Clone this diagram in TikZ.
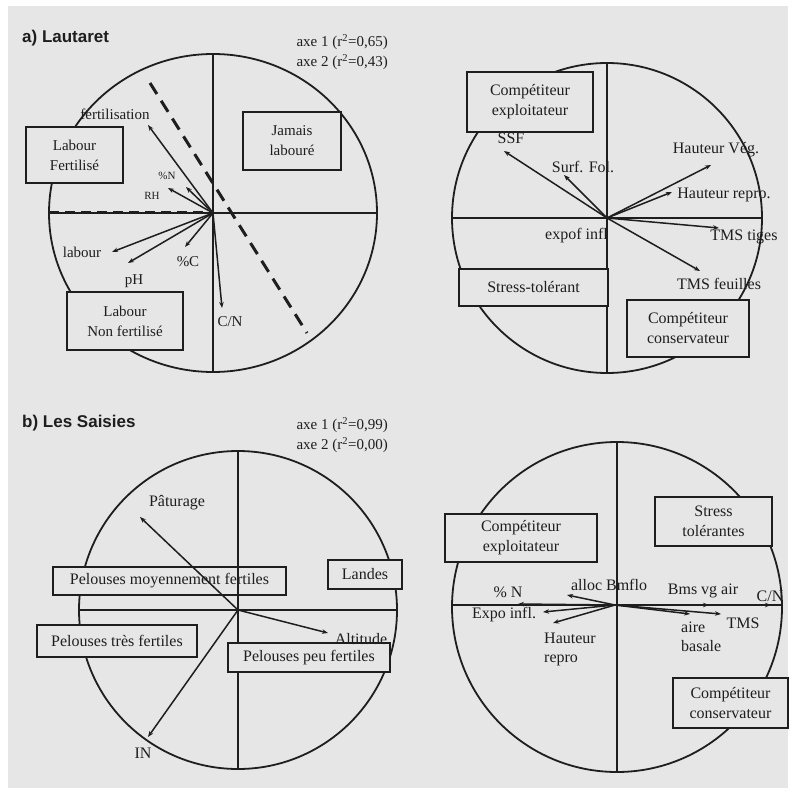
\documentclass[tikz,border=0pt]{standalone}
\usepackage{fontspec}
\setmainfont{Liberation Serif}
\newfontfamily\headfont{Liberation Sans}
\usetikzlibrary{arrows.meta}
\definecolor{bgc}{HTML}{E6E6E6}
\definecolor{ink}{HTML}{1E1E1E}
\begin{document}
\begin{tikzpicture}[x=1pt,y=-1pt,
  ring/.style={draw=ink,line width=1.8pt},
  axisline/.style={draw=ink,line width=1.8pt},
  vec/.style={draw=ink,line width=1.5pt,-{Stealth[length=6pt,width=4.5pt]}},
  boxn/.style={draw=ink,line width=1.8pt,fill=bgc,align=center,inner sep=0pt,text=ink,font=\fontsize{16}{20}\selectfont},
  boxs/.style={boxn,font=\fontsize{15}{20}\selectfont},
  lbl/.style={inner sep=0pt,text=ink,font=\fontsize{16}{19}\selectfont},
  lbla/.style={inner sep=0pt,text=ink,font=\fontsize{15}{18}\selectfont},
  slbl/.style={inner sep=0pt,text=ink,font=\fontsize{11}{13}\selectfont},
  heading/.style={anchor=west,inner sep=0pt,text=ink,font=\headfont\bfseries\fontsize{17}{20}\selectfont},
  bigdash/.style={draw=ink,line width=3pt,dash pattern=on 13pt off 8pt}]
\useasboundingbox (0,0) rectangle (802,794);
\fill[white] (0,0) rectangle (802,794);
\fill[bgc] (8,6) rectangle (788,788);

% ---------------- a) Lautaret ----------------
\node[heading] (ha) at (22,38) {a) Lautaret};
\node[lbla,anchor=east] (ha1) at (388,42) {axe 1 (r\textsuperscript{2}=0,65)};
\node[lbla,anchor=east] (ha2) at (388,62) {axe 2 (r\textsuperscript{2}=0,43)};

% top-left circle
\coordinate (O1) at (213,213);
\draw[ring] (O1) ellipse [x radius=164, y radius=159];
\coordinate (T1) at (213,54);
\coordinate (B1) at (213,372);
\coordinate (L1) at (49,213);
\coordinate (R1) at (377,213);
\draw[axisline] (T1) -- (B1);
\draw[axisline] (L1) -- (R1);
\draw[bigdash,dash pattern=on 10pt off 6pt] (L1) -- (O1);
\coordinate (D1a) at (150,83);
\coordinate (D1b) at (307,333);
\draw[bigdash] (D1a) -- (D1b);

\coordinate (tfert) at (148,125);
\coordinate (tN) at (186,187);
\coordinate (tRH) at (168,188);
\coordinate (tlab) at (112,252);
\coordinate (tpH) at (128,263);
\coordinate (tC) at (185,247);
\coordinate (tCN) at (222,308);
\foreach \t in {tfert,tN,tRH,tlab,tpH,tC,tCN} \draw[vec] (O1) -- (\t);

\node[lbla] (lfert) at (115,114) {fertilisation};
\node[slbl] (lN) at (167,176) {\%N};
\node[slbl] (lRH) at (152,196) {RH};
\node[lbla] (llab) at (82,252) {labour};
\node[lbla] (lpH) at (134,281) {pH};
\node[lbla] (lC) at (188,262) {\%C};
\node[lbla] (lCN) at (230,322) {C/N};

\node[boxs,minimum width=98,minimum height=58] (jam) at (292,141) {Jamais\\labouré};
\node[boxs,minimum width=97,minimum height=56] (labf) at (74.5,155) {Labour\\Fertilisé};
\node[boxs,minimum width=116,minimum height=58] (labn) at (125,321) {Labour\\Non fertilisé};

% top-right circle
\coordinate (O2) at (607,218);
\draw[ring] (O2) circle [radius=155];
\coordinate (T2) at (607,63);
\coordinate (B2) at (607,373);
\coordinate (L2) at (452,218);
\coordinate (R2) at (762,218);
\draw[axisline] (T2) -- (B2);
\draw[axisline] (L2) -- (R2);

\coordinate (tSSF) at (504,151);
\coordinate (tSF) at (564,175);
\coordinate (tHV) at (711,165);
\coordinate (tHR) at (672,192);
\coordinate (tTt) at (719,228);
\coordinate (tTf) at (700,271);
\foreach \t in {tSSF,tSF,tHV,tHR,tTt,tTf} \draw[vec] (O2) -- (\t);

\node[lbl] (lSSF) at (511,138) {SSF};
\node[lbl] (lSF) at (583,167) {Surf. Fol.};
\node[lbl] (lHV) at (716,150) {Hauteur Vég.};
\node[lbl] (lHR) at (724,195) {Hauteur repro.};
\node[lbl] (lTt) at (744,237) {TMS tiges};
\node[lbl] (lTf) at (719,284) {TMS feuilles};
\node[lbl,anchor=east] (lexp) at (608,236) {expof infl};

\node[boxn,minimum width=126,minimum height=60] (cexp) at (530,102) {Compétiteur\\exploitateur};
\node[boxn,minimum width=149,minimum height=37] (stol) at (533.5,287.5) {Stress-tolérant};
\node[boxn,minimum width=122,minimum height=57] (ccons) at (688,328.5) {Compétiteur\\conservateur};

% ---------------- b) Les Saisies ----------------
\node[heading] (hb) at (22,423) {b) Les Saisies};
\node[lbla,anchor=east] (hb1) at (388,425) {axe 1 (r\textsuperscript{2}=0,99)};
\node[lbla,anchor=east] (hb2) at (388,445) {axe 2 (r\textsuperscript{2}=0,00)};

% bottom-left circle
\coordinate (O3) at (238,610);
\draw[ring] (O3) circle [radius=159];
\node[boxn,minimum width=233,minimum height=28] (pmf) at (169.5,581) {Pelouses moyennement fertiles};
\node[boxn,minimum width=74,minimum height=29] (land) at (365,574.5) {Landes};
\node[boxn,minimum width=160,minimum height=32] (ptf) at (117,641) {Pelouses très fertiles};
\coordinate (T3) at (238,451);
\coordinate (B3) at (238,769);
\coordinate (L3) at (79,610);
\coordinate (R3) at (397,610);
\draw[axisline] (T3) -- (B3);
\draw[axisline] (L3) -- (R3);
\coordinate (tPat) at (140,517);
\coordinate (tAlt) at (328,633);
\coordinate (tIN) at (148,737);
\foreach \t in {tPat,tAlt,tIN} \draw[vec] (O3) -- (\t);
\node[boxn,minimum width=162,minimum height=29] (ppf) at (309,657.5) {Pelouses peu fertiles};
\node[lbl] (lPat) at (177,503) {Pâturage};
\node[lbl] (lAlt) at (361,639) {Altitude};
\node[lbl] (lIN) at (143,753) {IN};

% bottom-right circle
\coordinate (O4) at (617,607);
\draw[ring] (O4) circle [radius=165];
\coordinate (T4) at (617,442);
\coordinate (B4) at (617,772);
\coordinate (L4) at (452,605);
\coordinate (R4) at (782,605);
\draw[axisline] (T4) -- (B4);
\draw[axisline] (L4) -- (R4);
\coordinate (C4) at (615,605);
\coordinate (tpN) at (518,604);
\coordinate (tal) at (567,595);
\coordinate (tEx) at (543,612);
\coordinate (tHr) at (553,623);
\coordinate (tBm) at (709,605);
\coordinate (tCN2) at (771,605);
\coordinate (tTMS) at (721,614);
\coordinate (tair) at (690,614);
\foreach \t in {tpN,tal,tEx,tHr,tBm,tCN2,tTMS,tair} \draw[vec] (C4) -- (\t);

\node[lbl] (lpN) at (508,592) {\% N};
\node[lbl] (lal) at (609,585) {alloc Bmflo};
\node[lbl] (lEx) at (504,615) {Expo infl.};
\node[lbl,anchor=north west,align=left] (lHr) at (544,633) {Hauteur\\repro};
\node[lbl] (lBm) at (703,591) {Bms vg air};
\node[lbl] (lCN2) at (770,596) {C/N};
\node[lbl] (lTMS) at (743,623) {TMS};
\node[lbl,anchor=north west,align=left] (lair) at (681,622) {aire\\basale};

\node[boxn,minimum width=152,minimum height=48] (cexp2) at (521,538) {Compétiteur\\exploitateur};
\node[boxn,minimum width=117,minimum height=49] (stol2) at (713.5,521.5) {Stress\\tolérantes};
\node[boxn,minimum width=115,minimum height=50] (ccons2) at (730.5,703) {Compétiteur\\conservateur};
\end{tikzpicture}
\end{document}
